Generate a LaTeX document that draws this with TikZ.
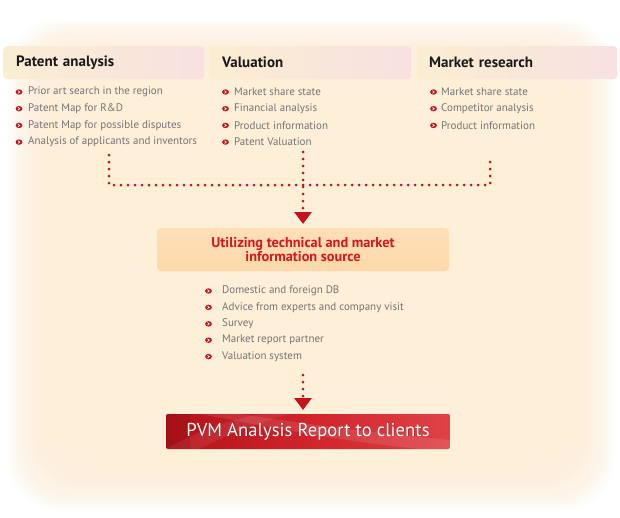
\documentclass[tikz,border=0pt]{standalone}
\usepackage{fontspec}
\setmainfont{PT Sans}
\usetikzlibrary{arrows.meta}
\definecolor{cream}{HTML}{FDEFD8}
\definecolor{hdA}{HTML}{FBEDD3}
\definecolor{hdB}{HTML}{F8E1E0}
\definecolor{peach}{HTML}{FDD9AA}
\definecolor{bulred}{HTML}{C3141B}
\definecolor{titred}{HTML}{D7161D}
\definecolor{itemgray}{HTML}{747474}
\definecolor{repA}{HTML}{B3111A}
\definecolor{repB}{HTML}{D0242A}
\definecolor{repC}{HTML}{DE4247}
\tikzset{
  head/.style={draw=none, rounded corners=4pt, left color=hdA, right color=hdB,
    anchor=north west, minimum height=33pt, inner ysep=0pt, align=left,
    font=\fontsize{15}{16}\selectfont\bfseries, text=black!90},
  item/.style={anchor=west, inner sep=0pt, text=itemgray, font=\fontsize{11}{12}\selectfont},
  bul/.pic={\fill[bulred] (0,0) ellipse (3.4pt and 2.7pt);
            \draw[white, line width=0.7pt] (-1pt,-1.3pt) -- (0.8pt,0pt) -- (-1pt,1.3pt);},
  dotline/.style={bulred, line width=3pt, line cap=round, dash pattern=on 0pt off 7pt},
  tip/.style={-{Triangle[width=17pt,length=12pt]}}
}
\begin{document}
\begin{tikzpicture}[x=1pt,y=-1pt]
\useasboundingbox (0,0) rectangle (620,517);
\fill[white] (0,0) rectangle (620,517);
% soft background
\foreach \i in {0,...,19} {
  \fill[cream, opacity=0.10, rounded corners=50pt]
    ({8+\i*2.4},{20+\i*2.4}) rectangle ({614-\i*2.4},{510-\i*2.4});
}
% headers
\node[head, text width=175pt, inner xsep=13pt] (h1) at (3,46) {Patent analysis};
\node[head, text width=176pt, inner xsep=13pt] (h2) at (209,46) {Valuation};
\node[head, text width=176pt, inner xsep=12pt] (h3) at (417,46) {Market research};
% column 1
\foreach \t [count=\k] in {Prior art search in the region, Patent Map for R\&D,
   Patent Map for possible disputes, Analysis of applicants and inventors} {
  \pic at (19,{92+(\k-1)*16.7}) {bul};
  \node[item] (a\k) at (28,{92+(\k-1)*16.7}) {\t};
}
% column 2
\foreach \t [count=\k] in {Market share state, Financial analysis, Product information, Patent Valuation} {
  \pic at (225.5,{92+(\k-1)*16.7}) {bul};
  \node[item] (b\k) at (234,{92+(\k-1)*16.7}) {\t};
}
% column 3
\foreach \t [count=\k] in {Market share state, Competitor analysis, Product information} {
  \pic at (433.5,{92+(\k-1)*16.7}) {bul};
  \node[item] (c\k) at (441,{92+(\k-1)*16.7}) {\t};
}
% middle box
\node[draw=none, rounded corners=4pt, top color=peach!85!white, bottom color=peach,
      minimum width=292pt, minimum height=43pt, align=center, text=titred,
      font=\fontsize{14.3}{14.5}\selectfont\bfseries] (mid) at (303,249.5)
      {Utilizing technical and market\\information source};
\foreach \t [count=\k] in {Domestic and foreign DB, Advice from experts and company visit,
   Survey, Market report partner, Valuation system} {
  \pic at (208.5,{291+(\k-1)*16.4}) {bul};
  \node[item] (m\k) at (222,{291+(\k-1)*16.4}) {\t};
}
% report box
\node[draw=none, rounded corners=2pt, left color=repA, right color=repC, middle color=repB,
      minimum width=284pt, minimum height=35pt] (rep) at (308,431.5) {};
\begin{scope}
  \clip[rounded corners=2pt] (rep.north west) rectangle (rep.south east);
  \fill[white, opacity=0.10] (200,414) .. controls (260,425) and (330,440) .. (420,449) -- (450,449) -- (450,440) .. controls (360,432) and (280,420) .. (240,414) -- cycle;
  \fill[white, opacity=0.08] (166,449) .. controls (200,430) and (230,420) .. (260,414) -- (290,414) .. controls (250,425) and (220,438) .. (200,449) -- cycle;
  \fill[black, opacity=0.08] (166,414) rectangle (190,449);
\end{scope}
\node[text=black, opacity=0.25, font=\fontsize{18.7}{19}\selectfont] at ([xshift=0.6pt,yshift=-0.6pt]rep.center) {PVM Analysis Report to clients};
\node[text=white, font=\fontsize{18.7}{19}\selectfont] (reptxt) at (rep.center) {PVM Analysis Report to clients};
% connectors
\coordinate (lt) at (109,155);
\coordinate (lb) at (109,185);
\coordinate (rt) at (490,155);
\coordinate (rb) at (490,185);
\coordinate (ct) at (303,152);
\coordinate (ce) at (303,224);
\coordinate (dt) at (303,375);
\coordinate (de) at (303,410);
\draw[dotline] (lt) -- (lb) -- (rb) -- (rt);
\draw[dotline, tip] (ct) -- (ce);
\draw[dotline, tip] (dt) -- (de);
\end{tikzpicture}
\end{document}
